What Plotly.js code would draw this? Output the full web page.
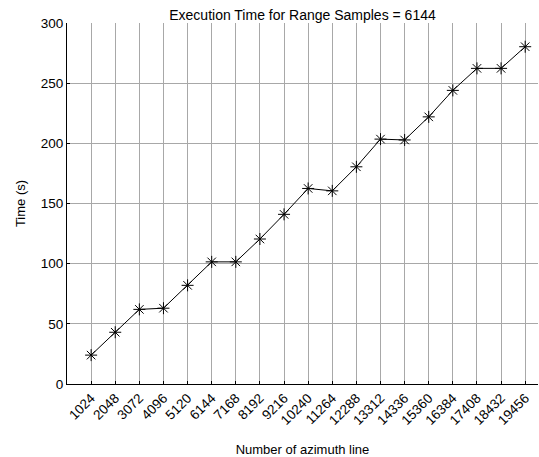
<!DOCTYPE html>
<html>
<head>
<meta charset="utf-8">
<script src="https://cdn.plot.ly/plotly-3.0.1.min.js"></script>
<style>html,body{margin:0;padding:0;background:#fff;}#chart{width:539px;height:457px;}</style>
</head>
<body>
<div id="chart"></div>
<script>
var azimuthLines = [1024, 2048, 3072, 4096, 5120, 6144, 7168, 8192, 9216, 10240, 11264, 12288, 13312, 14336, 15360, 16384, 17408, 18432, 19456];
var timeSeconds = [24, 43, 62, 63, 82, 101.5, 101.5, 120.5, 141, 162.5, 160.5, 180.5, 203.5, 202.8, 222, 244, 262.3, 262.3, 280.3];
var tickLabels = azimuthLines.map(String);
var yTicks = [0, 50, 100, 150, 200, 250, 300];

var font = 'Liberation Sans, Arial, sans-serif';

Plotly.newPlot('chart', [{
  x: azimuthLines,
  y: timeSeconds,
  type: 'scatter',
  mode: 'lines+markers',
  line: {color: '#000', width: 1},
  marker: {symbol: 'asterisk-open', size: 10, color: '#000', line: {color: '#000', width: 1}},
  showlegend: false
}], {
  width: 539, height: 457,
  margin: {l: 67, r: 1, t: 23, b: 73},
  paper_bgcolor: '#fff', plot_bgcolor: '#fff',
  font: {family: font, size: 13, color: '#000'},
  title: {text: 'Execution Time for Range Samples = 6144', font: {family: font, size: 14, color: '#000'},
          x: 0.5, xref: 'paper', xanchor: 'center', y: 0.967, yref: 'container', yanchor: 'middle'},
  xaxis: {
    range: [0, 20000], tickmode: 'array', tickvals: azimuthLines, ticktext: tickLabels,
    tickangle: -45, ticks: 'inside', ticklen: 3, tickcolor: '#000',
    showgrid: true, gridcolor: '#a8a8a8', gridwidth: 1,
    showline: true, linecolor: '#000', linewidth: 1, zeroline: false,
    tickfont: {family: font, size: 13.5, color: '#000'},
    title: {text: 'Number of azimuth line', font: {family: font, size: 13, color: '#000'}, standoff: 19},
    automargin: false
  },
  yaxis: {
    range: [0, 300], tickmode: 'array', tickvals: yTicks,
    ticks: 'inside', ticklen: 3, tickcolor: '#000',
    showgrid: true, gridcolor: '#a8a8a8', gridwidth: 1,
    showline: true, linecolor: '#000', linewidth: 1, zeroline: false,
    tickfont: {family: font, size: 13.5, color: '#000'},
    title: {text: 'Time (s)', font: {family: font, size: 13, color: '#000'}, standoff: 12},
    automargin: false
  }
}, {displayModeBar: false, staticPlot: true});
</script>
</body>
</html>
